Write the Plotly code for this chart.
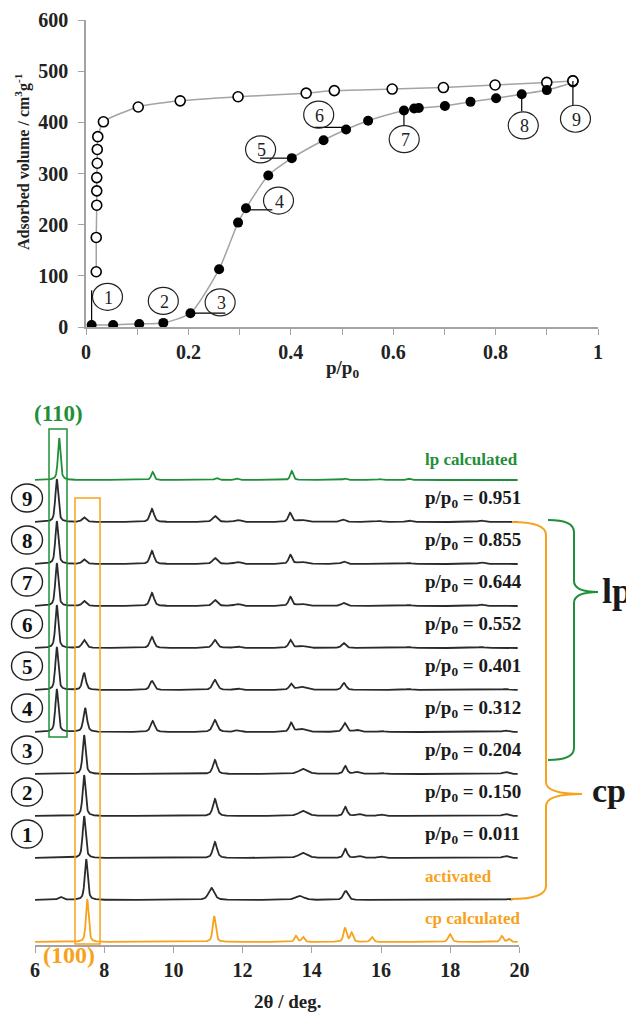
import numpy as np
import plotly.graph_objects as go

W, H = 626, 1005     # page has an 8px body margin; figure fills the rest
OFF = 8

# ---------------- Isotherm data (top panel) ----------------
ads_p = [0.011, 0.053, 0.104, 0.151, 0.204, 0.26, 0.297, 0.3125, 0.356, 0.402, 0.464,
         0.508, 0.551, 0.621, 0.641, 0.65, 0.701, 0.751, 0.801, 0.851, 0.90, 0.951]
ads_v = [4, 4, 6, 8, 27, 113, 204, 232, 296, 330, 365,
         386, 403, 423, 427, 428, 432, 440, 447, 455, 463, 478]
des_p = [0.951, 0.90, 0.799, 0.698, 0.598, 0.485, 0.43, 0.297, 0.184, 0.102, 0.034,
         0.023, 0.022, 0.022, 0.021, 0.021, 0.021, 0.020, 0.020]
des_v = [481, 478, 473, 468, 465, 462, 457, 450, 442, 430, 401,
         372, 347, 320, 292, 266, 238, 175, 108]

callout_text = ["1", "2", "3", "4", "5", "6", "7", "8", "9"]
callout_p = [0.042, 0.151, 0.262, 0.376, 0.341, 0.4545, 0.6215, 0.854, 0.956]
callout_v = [59, 51, 48, 247, 347, 415, 367, 394, 407]

# ---------------- XRD data (bottom panel) ----------------
# peak tables: (2theta, height, half width)
peaks_cp_calc = [(7.51, 43, 0.045), (11.18, 26, 0.05), (13.54, 6, 0.05), (13.75, 5, 0.05),
                 (14.96, 14, 0.05), (15.15, 9, 0.05), (15.74, 5, 0.05), (17.99, 8, 0.06),
                 (19.49, 6, 0.05), (19.70, 3, 0.05)]
peaks_activated = [(6.74, 3, 0.08), (7.48, 41, 0.05), (11.10, 12, 0.10), (13.65, 4, 0.15),
                   (14.98, 9, 0.08), (19.70, 1, 0.10)]
peaks_p011 = [(7.42, 42, 0.05), (11.20, 16, 0.07), (13.75, 5, 0.15), (14.97, 9, 0.06),
              (15.35, 2, 0.10), (16.00, 1.5, 0.10), (19.60, 2, 0.10)]
peaks_p150 = [(7.42, 41, 0.05), (11.20, 17, 0.07), (13.75, 5, 0.15), (14.97, 9, 0.06),
              (15.35, 2, 0.10), (16.00, 1.5, 0.10), (19.60, 2, 0.10)]
peaks_p204 = [(7.42, 39, 0.05), (11.20, 14, 0.07), (13.75, 5, 0.15), (14.97, 8, 0.06),
              (15.30, 2, 0.10), (16.00, 1, 0.10), (19.60, 2, 0.10)]
peaks_p312 = [(6.63, 43, 0.05), (7.45, 24, 0.06), (9.40, 11, 0.07), (11.20, 12, 0.08),
              (11.85, 1.5, 0.10), (13.40, 9, 0.06), (13.70, 3, 0.15), (14.95, 9, 0.07),
              (15.30, 2, 0.10), (16.00, 1, 0.10), (19.60, 1.5, 0.10)]
peaks_p401 = [(6.63, 43, 0.05), (7.42, 17, 0.06), (9.38, 9, 0.07), (11.20, 10, 0.08),
              (11.85, 1.5, 0.10), (13.40, 6, 0.06), (13.70, 3, 0.15), (14.93, 7, 0.07),
              (16.80, 1, 0.10), (19.60, 1, 0.10)]
peaks_p552 = [(6.63, 43, 0.05), (7.42, 8, 0.07), (9.38, 11, 0.07), (11.20, 8, 0.08),
              (11.85, 1.5, 0.10), (13.38, 8, 0.06), (13.70, 2, 0.15), (14.92, 5, 0.07),
              (16.80, 1, 0.10), (18.90, 1, 0.10)]
peaks_p644 = [(6.63, 43, 0.05), (7.42, 5, 0.07), (9.38, 13, 0.07), (11.20, 6, 0.08),
              (11.85, 2, 0.10), (13.38, 9, 0.06), (13.70, 2, 0.15), (14.92, 3, 0.08),
              (16.80, 1, 0.10), (18.90, 1.5, 0.10)]
peaks_p855 = [(6.63, 43, 0.05), (7.42, 4.5, 0.07), (9.38, 13, 0.07), (11.20, 6, 0.08),
              (11.85, 2, 0.10), (13.38, 9, 0.06), (13.70, 2, 0.15), (14.92, 2.5, 0.08),
              (16.80, 1, 0.10), (18.90, 1.5, 0.10)]
peaks_p951 = [(6.63, 43, 0.05), (7.42, 4.5, 0.07), (9.38, 13, 0.07), (11.20, 6, 0.08),
              (11.85, 2, 0.10), (13.37, 9, 0.06), (13.70, 2, 0.15), (14.90, 2.5, 0.08),
              (15.95, 1, 0.10), (16.80, 1.5, 0.10), (18.90, 1.5, 0.10)]
peaks_lp_calc = [(6.70, 42, 0.045), (9.40, 8, 0.05), (11.25, 2, 0.06), (11.84, 1.5, 0.06),
                 (13.42, 9, 0.05), (14.96, 1.5, 0.06), (15.97, 1, 0.06), (16.80, 1.5, 0.06)]

row_labels = ["cp calculated", "activated", "p/p0 = 0.011", "p/p0 = 0.150", "p/p0 = 0.204",
              "p/p0 = 0.312", "p/p0 = 0.401", "p/p0 = 0.552", "p/p0 = 0.644",
              "p/p0 = 0.855", "p/p0 = 0.951", "lp calculated"]
row_peaks = [peaks_cp_calc, peaks_activated, peaks_p011, peaks_p150, peaks_p204,
             peaks_p312, peaks_p401, peaks_p552, peaks_p644, peaks_p855, peaks_p951,
             peaks_lp_calc]
row_circle = ["", "", "1", "2", "3", "4", "5", "6", "7", "8", "9", ""]
theta_ticks = [6, 8, 10, 12, 14, 16, 18, 20]

GREEN = "#1f8f3a"
ORANGE = "#f7a21c"
BLACK = "#2a2a2a"
GRAY = "#a3a3a3"
SERIF = "Liberation Serif"


def px(x):
    return (x - OFF) / W


def py(y):
    return 1 - (y - OFF) / H


def profile(theta, peaks):
    y = np.zeros_like(theta)
    for c, h, g in peaks:
        lor = g * g / ((theta - c) ** 2 + g * g)
        gau = np.exp(-np.log(2) * ((theta - c) / g) ** 2)
        y += h * (0.6 * lor + 0.4 * gau)
    return y


fig = go.Figure()

# --- top panel traces
fig.add_trace(go.Scatter(x=des_p, y=des_v, mode="lines+markers", xaxis="x", yaxis="y",
                         line=dict(color=GRAY, width=1.5, shape="spline", smoothing=0.5),
                         marker=dict(symbol="circle", size=10, color="white",
                                     line=dict(color="black", width=1.6)),
                         showlegend=False))
fig.add_trace(go.Scatter(x=ads_p, y=ads_v, mode="lines+markers", xaxis="x", yaxis="y",
                         line=dict(color=GRAY, width=1.5, shape="spline", smoothing=0.6),
                         marker=dict(symbol="circle", size=10, color="black"),
                         showlegend=False))
fig.add_trace(go.Scatter(x=des_p[:1], y=des_v[:1], mode="markers", xaxis="x", yaxis="y",
                         marker=dict(symbol="circle", size=10, color="white",
                                     line=dict(color="black", width=1.6)),
                         showlegend=False))

# --- bottom panel traces
SP = 42.0
BASE0 = 3.0
theta = np.arange(6.0, 19.96, 0.01)
for i, pk in enumerate(row_peaks):
    lab = row_labels[i]
    col = ORANGE if lab == "cp calculated" else GREEN if lab == "lp calculated" else BLACK
    xs = theta if lab != "activated" else theta[theta <= 19.8]
    off = BASE0 + SP * i
    fig.add_trace(go.Scatter(x=xs, y=profile(xs, pk) + off, mode="lines",
                             xaxis="x2", yaxis="y2",
                             line=dict(color=col, width=1.8), showlegend=False,
                             hoverinfo="skip"))

shapes = []
annotations = []


def pann(x, y, text, font, **kw):
    d = dict(x=px(x), y=py(y), xref="paper", yref="paper", text=text, showarrow=False,
             xanchor="center", yanchor="middle", font=font)
    d.update(kw)
    annotations.append(d)


# top callouts
leaders = [((0.011, 4), (0.011, 72)), ((0.204, 27), (0.272, 27)), ((0.3125, 229), (0.364, 229)),
           ((0.34, 330), (0.402, 330)), ((0.447, 390), (0.508, 390)), ((0.621, 423), (0.621, 393)),
           ((0.851, 455), (0.851, 421)), ((0.951, 481), (0.951, 434))]
for (a, b) in leaders:
    shapes.append(dict(type="line", xref="x", yref="y", x0=a[0], y0=a[1], x1=b[0], y1=b[1],
                       line=dict(color="black", width=1.2)))
for t, cx, cy in zip(callout_text, callout_p, callout_v):
    shapes.append(dict(type="circle", xref="x", yref="y", xsizemode="pixel",
                       ysizemode="pixel", xanchor=cx, yanchor=cy, x0=-15, x1=15,
                       y0=-13.5, y1=13.5, line=dict(color="#222", width=1.2),
                       fillcolor="rgba(255,255,255,0)"))
    annotations.append(dict(x=cx, y=cy, xref="x", yref="y", text=t, showarrow=False,
                            xanchor="center", yanchor="middle", xshift=1, yshift=-1,
                            font=dict(family=SERIF, size=18, color="#222")))

# top titles
pann(22, 162, "Adsorbed volume / cm<sup>3</sup>g<sup>-1</sup>",
     dict(family=SERIF, size=16, color="#222", weight="bold"), textangle=-90)
pann(342, 369, "p/p<sub>0</sub>", dict(family=SERIF, size=19, color="#222", weight="bold"))

# bottom labels
Y2TOP = 540.0
AX2 = 945.0

for i, lab in enumerate(row_labels):
    off = BASE0 + SP * i
    if lab.startswith("p/p0"):
        txt = "p/p<sub>0</sub> = " + lab.split("= ")[1]
        col = "#1a1a1a"
        dy = 23
        size = 19
    else:
        txt = lab
        col = ORANGE if lab != "lp calculated" else GREEN
        dy = 24 if lab != "lp calculated" else 21
        size = 17
    annotations.append(dict(x=17.21, y=off + dy, xref="x2", yref="y2", text=txt,
                            showarrow=False, xanchor="left", yanchor="middle",
                            font=dict(family=SERIF, size=size, color=col, weight="bold")))
    if row_circle[i]:
        cyp = AX2 - (off + 24)
        shapes.append(dict(type="circle", xref="paper", yref="paper", xsizemode="pixel",
                           ysizemode="pixel", xanchor=px(27), yanchor=py(cyp), x0=-15.5,
                           x1=15.5, y0=-14, y1=14, line=dict(color="#222", width=1.4)))
        pann(27.5, cyp + 1, row_circle[i],
             dict(family=SERIF, size=21, color="#111", weight="bold"))

# boxes
shapes.append(dict(type="rect", xref="x2", yref="y2", x0=6.405, x1=6.925, y0=208, y1=516,
                   line=dict(color=GREEN, width=1.5)))
shapes.append(dict(type="rect", xref="x2", yref="y2", x0=7.156, x1=7.88, y0=1, y1=447,
                   line=dict(color=ORANGE, width=1.5)))
pann(58, 413, "(110)", dict(family=SERIF, size=23, color=GREEN, weight="bold"))
pann(69, 955, "(100)", dict(family=SERIF, size=24, color=ORANGE, weight="bold"))


def path_px(pts):
    out = []
    for cmd, coords in pts:
        s = cmd
        for (x, y) in coords:
            s += " %.5f,%.5f" % (px(x), py(y))
        out.append(s)
    return " ".join(out)


orange_path = path_px([("M", [(512, 522)]), ("Q", [(546, 522), (546, 535)]),
                       ("L", [(546, 782)]), ("Q", [(546, 794), (582, 794)]),
                       ("Q", [(546, 794), (546, 806)]), ("L", [(546, 886)]),
                       ("Q", [(546, 899), (511, 899)])])
green_path = path_px([("M", [(548, 520)]), ("Q", [(574, 520), (574, 532)]),
                      ("L", [(574, 581)]), ("Q", [(574, 592), (598, 592)]),
                      ("Q", [(574, 592), (574, 603)]), ("L", [(574, 748)]),
                      ("Q", [(574, 760), (548, 760)])])
shapes.append(dict(type="path", xref="paper", yref="paper", path=orange_path,
                   line=dict(color=ORANGE, width=2)))
shapes.append(dict(type="path", xref="paper", yref="paper", path=green_path,
                   line=dict(color=GREEN, width=2)))
pann(600, 591, "lp", dict(family=SERIF, size=36, color="#1a1a1a", weight="bold"),
     xanchor="left")
pann(609, 790, "cp", dict(family=SERIF, size=34, color="#1a1a1a", weight="bold"))
pann(287, 1001, "2θ / deg.", dict(family=SERIF, size=19, color="#222", weight="bold"))

tickfont = dict(family=SERIF, size=20, color="#222", weight="bold")

fig.update_layout(
    template="none",
    width=W, height=H, margin=dict(l=0, r=0, t=0, b=0, pad=0),
    paper_bgcolor="white", plot_bgcolor="white",
    font=dict(family=SERIF, color="#222"),
    xaxis=dict(domain=[px(86), px(598)], range=[0, 1], anchor="y", automargin=False,
               tickvals=[0, 0.2, 0.4, 0.6, 0.8, 1], ticktext=["0", "0.2", "0.4", "0.6", "0.8", "1"],
               ticks="outside", ticklen=6, tickcolor=GRAY, tickwidth=1.3,
               minor=dict(dtick=0.1, ticks="outside", ticklen=6, tickcolor=GRAY, tickwidth=1.3,
                          showgrid=False),
               showline=True, linecolor=GRAY, linewidth=1.5, showgrid=False, zeroline=False,
               tickfont=tickfont),
    yaxis=dict(domain=[py(327), py(20)], range=[0, 600], anchor="x", automargin=False,
               tickvals=[0, 100, 200, 300, 400, 500, 600],
               ticks="outside", ticklen=6, tickcolor=GRAY, tickwidth=1.3,
               showline=True, linecolor=GRAY, linewidth=1.5, showgrid=False, zeroline=False,
               tickfont=tickfont, ticklabelstandoff=6),
    xaxis2=dict(domain=[px(35), px(35 + 14 * 34.6)], range=[6, 20], anchor="y2",
                automargin=False,
                tickvals=theta_ticks, ticks="outside", ticklen=6, tickcolor=GRAY, tickwidth=1.3,
                showline=True, linecolor=GRAY, linewidth=1.5, showgrid=False, zeroline=False,
                tickfont=tickfont),
    yaxis2=dict(domain=[py(AX2), py(AX2 - Y2TOP)], range=[0, Y2TOP], anchor="x2",
                automargin=False, visible=False, showgrid=False, zeroline=False),
    shapes=shapes, annotations=annotations,
)

fig.write_html("out.html")
